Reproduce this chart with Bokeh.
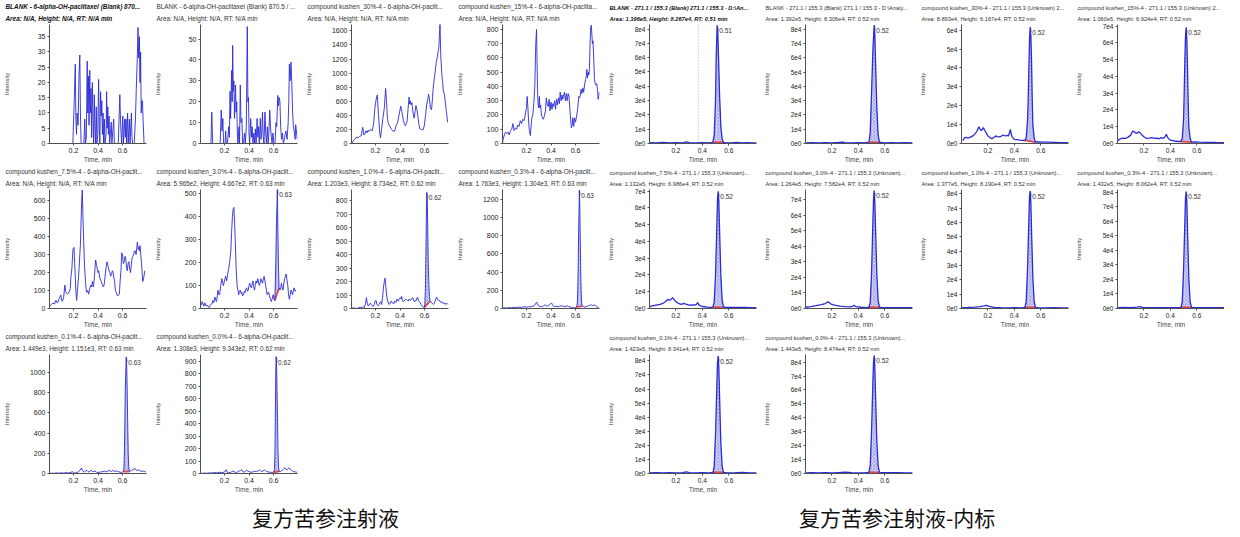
import numpy as np
from bokeh.plotting import figure
from bokeh.models import Range1d, FixedTicker, Title, Label, Span, Div, Spacer
from bokeh.layouts import row, column
from bokeh.embed import file_html
from bokeh.resources import INLINE

# ---------------- data (time [min], intensity [cps]) ----------------
L1 = [(0.005,0),(0.195,0),(0.205,12),(0.215,26),(0.22,8),(0.225,3),(0.23,10),(0.238,6),(0.245,22),(0.252,29),(0.257,10),(0.262,0),(0.285,0),(0.292,8),(0.298,0),(0.305,2),(0.312,27),(0.317,10),(0.322,22),(0.327,6),(0.333,24),(0.338,10),(0.343,18),(0.348,2),(0.354,20),(0.359,9),(0.364,0),(0.37,16),(0.375,5),(0.38,0),(0.386,12),(0.391,0),(0.398,3),(0.405,21),(0.41,6),(0.415,0),(0.421,17),(0.426,9),(0.431,14),(0.436,3),(0.441,10),(0.446,0),(0.452,8),(0.457,0),(0.466,3),(0.47,17),(0.475,5),(0.48,12),(0.485,3),(0.49,9),(0.495,0),(0.508,7),(0.513,0),(0.528,8),(0.533,0),(0.565,0),(0.578,16),(0.583,8),(0.588,3),(0.593,0),(0.602,9),(0.607,0),(0.618,8),(0.623,2),(0.628,8),(0.633,0),(0.641,10),(0.646,0),(0.656,8),(0.661,0),(0.672,10),(0.677,2),(0.682,0),(0.695,0),(0.705,8),(0.712,18),(0.72,28),(0.726,38),(0.731,28),(0.737,35),(0.742,20),(0.747,30),(0.752,10),(0.757,14),(0.762,14),(0.767,8),(0.775,0),(0.79,0)]
L2 = [(0.005,0),(0.09,0),(0.097,15),(0.104,0),(0.165,0),(0.174,16),(0.18,6),(0.187,12),(0.193,0),(0.205,0),(0.21,6),(0.215,0),(0.225,0),(0.234,8),(0.24,3),(0.246,25),(0.25,12),(0.259,35),(0.263,20),(0.267,47),(0.272,25),(0.277,30),(0.282,12),(0.29,28),(0.295,15),(0.30,20),(0.305,5),(0.31,0),(0.318,8),(0.323,0),(0.329,28),(0.335,10),(0.342,12),(0.348,0),(0.355,0),(0.363,5),(0.37,0),(0.378,8),(0.386,56),(0.391,20),(0.396,22),(0.40,5),(0.405,0),(0.414,12),(0.42,3),(0.426,8),(0.432,0),(0.44,5),(0.446,0),(0.452,7),(0.458,0),(0.466,12),(0.472,3),(0.478,8),(0.484,0),(0.492,12),(0.498,2),(0.504,6),(0.51,15),(0.516,3),(0.522,0),(0.53,15),(0.536,5),(0.542,0),(0.55,8),(0.556,0),(0.562,5),(0.569,16),(0.575,8),(0.582,3),(0.588,0),(0.595,5),(0.602,0),(0.612,0),(0.62,10),(0.626,8),(0.634,23),(0.64,18),(0.646,22),(0.652,20),(0.658,8),(0.665,2),(0.672,5),(0.68,0),(0.69,3),(0.70,6),(0.71,2),(0.719,10),(0.724,20),(0.729,38),(0.735,30),(0.742,39),(0.748,30),(0.755,15),(0.762,8),(0.77,5),(0.776,2),(0.78,9),(0.786,6),(0.793,2)]
L3 = [(0.006,0),(0.02,40),(0.032,60),(0.045,90),(0.058,80),(0.07,100),(0.084,110),(0.097,230),(0.105,120),(0.115,140),(0.123,180),(0.13,150),(0.14,190),(0.148,170),(0.16,200),(0.174,180),(0.185,280),(0.195,500),(0.205,620),(0.215,690),(0.225,400),(0.235,150),(0.241,80),(0.25,200),(0.26,350),(0.272,500),(0.283,780),(0.29,600),(0.298,350),(0.306,280),(0.316,250),(0.33,200),(0.342,180),(0.355,170),(0.368,250),(0.381,300),(0.394,420),(0.406,530),(0.415,450),(0.427,330),(0.437,270),(0.445,250),(0.458,320),(0.466,500),(0.474,660),(0.48,560),(0.484,600),(0.49,550),(0.497,580),(0.505,450),(0.515,360),(0.522,450),(0.53,540),(0.538,480),(0.546,380),(0.553,280),(0.561,210),(0.575,200),(0.587,190),(0.598,250),(0.608,400),(0.618,560),(0.626,620),(0.632,700),(0.639,650),(0.648,500),(0.657,480),(0.665,650),(0.67,780),(0.678,900),(0.685,1000),(0.695,1150),(0.703,1220),(0.71,1300),(0.716,1350),(0.72,1500),(0.726,1700),(0.732,1250),(0.737,1100),(0.742,950),(0.747,880),(0.752,760),(0.757,720),(0.762,700),(0.768,600),(0.778,450),(0.788,300)]
L4 = [(0.005,0),(0.01,30),(0.02,60),(0.03,80),(0.04,70),(0.05,80),(0.06,60),(0.07,90),(0.08,100),(0.09,140),(0.10,90),(0.11,110),(0.12,100),(0.13,130),(0.14,120),(0.15,160),(0.16,140),(0.17,170),(0.18,160),(0.19,200),(0.2,250),(0.206,330),(0.212,250),(0.218,150),(0.224,90),(0.232,55),(0.238,120),(0.244,180),(0.252,200),(0.26,280),(0.268,400),(0.276,700),(0.282,800),(0.286,600),(0.29,380),(0.295,270),(0.30,250),(0.305,330),(0.31,250),(0.316,270),(0.322,200),(0.33,180),(0.338,170),(0.345,190),(0.355,230),(0.362,320),(0.37,270),(0.378,260),(0.385,310),(0.392,230),(0.40,290),(0.408,240),(0.415,280),(0.422,260),(0.43,300),(0.437,240),(0.445,310),(0.452,270),(0.46,320),(0.468,280),(0.475,360),(0.482,300),(0.49,340),(0.496,310),(0.503,340),(0.51,360),(0.517,300),(0.525,350),(0.532,300),(0.54,350),(0.547,330),(0.553,250),(0.56,170),(0.566,110),(0.572,130),(0.578,180),(0.585,120),(0.592,180),(0.6,150),(0.61,200),(0.618,250),(0.626,330),(0.632,320),(0.639,340),(0.645,380),(0.652,350),(0.66,390),(0.666,360),(0.675,420),(0.682,450),(0.687,470),(0.692,520),(0.697,460),(0.703,500),(0.708,480),(0.713,520),(0.718,700),(0.724,820),(0.728,830),(0.732,780),(0.737,700),(0.742,720),(0.748,600),(0.754,450),(0.76,420),(0.766,410),(0.772,420),(0.779,380),(0.784,310),(0.79,340),(0.795,360)]
L5 = [(0.005,10),(0.015,20),(0.032,30),(0.045,25),(0.058,45),(0.07,30),(0.084,55),(0.097,75),(0.104,45),(0.11,40),(0.12,60),(0.13,130),(0.137,95),(0.143,85),(0.152,80),(0.161,85),(0.174,110),(0.18,180),(0.187,220),(0.196,330),(0.205,340),(0.21,250),(0.215,180),(0.22,90),(0.226,45),(0.235,120),(0.246,220),(0.252,300),(0.257,360),(0.262,480),(0.267,600),(0.272,660),(0.277,520),(0.283,380),(0.29,240),(0.298,150),(0.303,110),(0.308,90),(0.316,100),(0.324,80),(0.332,110),(0.342,130),(0.348,120),(0.355,150),(0.363,120),(0.37,170),(0.376,230),(0.381,270),(0.388,240),(0.394,220),(0.40,200),(0.406,210),(0.415,170),(0.427,150),(0.436,130),(0.445,120),(0.452,140),(0.458,180),(0.466,230),(0.474,260),(0.48,240),(0.484,230),(0.49,210),(0.497,200),(0.503,180),(0.51,190),(0.517,210),(0.523,200),(0.53,170),(0.535,150),(0.542,100),(0.548,90),(0.555,75),(0.561,70),(0.568,75),(0.574,80),(0.58,150),(0.587,210),(0.593,310),(0.6,300),(0.606,250),(0.613,260),(0.62,290),(0.626,280),(0.632,230),(0.639,210),(0.645,250),(0.652,260),(0.658,220),(0.665,200),(0.671,240),(0.677,280),(0.684,290),(0.69,300),(0.697,320),(0.703,320),(0.71,300),(0.716,340),(0.721,370),(0.727,330),(0.732,340),(0.737,320),(0.742,350),(0.748,300),(0.755,250),(0.76,190),(0.765,150),(0.772,170),(0.781,210)]
L6 = [(0.005,20),(0.01,15),(0.019,30),(0.025,20),(0.032,10),(0.04,25),(0.048,12),(0.058,15),(0.066,8),(0.076,5),(0.085,15),(0.097,20),(0.105,35),(0.113,25),(0.123,50),(0.13,35),(0.135,30),(0.142,55),(0.148,80),(0.155,60),(0.161,60),(0.17,100),(0.179,130),(0.186,110),(0.192,100),(0.2,120),(0.21,140),(0.218,120),(0.226,150),(0.234,170),(0.242,200),(0.252,250),(0.258,330),(0.265,400),(0.27,430),(0.277,440),(0.282,380),(0.288,300),(0.295,180),(0.303,100),(0.31,80),(0.316,60),(0.322,75),(0.329,80),(0.336,65),(0.342,70),(0.348,55),(0.355,60),(0.362,75),(0.368,70),(0.375,85),(0.381,90),(0.388,75),(0.394,80),(0.4,100),(0.406,110),(0.413,95),(0.419,90),(0.425,105),(0.432,120),(0.438,95),(0.445,80),(0.452,105),(0.458,120),(0.465,110),(0.471,130),(0.478,115),(0.484,100),(0.49,110),(0.497,130),(0.503,120),(0.51,110),(0.516,125),(0.523,140),(0.53,120),(0.535,100),(0.542,80),(0.548,60),(0.555,70),(0.561,70),(0.569,50),(0.575,40),(0.582,30),(0.59,45),(0.597,60),(0.604,40),(0.61,35),(0.615,120),(0.62,250),(0.624,380),(0.628,450),(0.631,520),(0.635,360),(0.64,180),(0.645,90),(0.652,80),(0.658,90),(0.665,110),(0.671,90),(0.677,80),(0.684,110),(0.69,130),(0.697,140),(0.703,150),(0.71,120),(0.716,100),(0.722,60),(0.729,40),(0.735,60),(0.742,80),(0.748,70),(0.755,60),(0.762,80),(0.768,90),(0.775,75),(0.781,80)]
L7 = [(0.005,0),(0.02,5),(0.04,0),(0.06,3),(0.075,10),(0.09,5),(0.1,15),(0.11,8),(0.12,40),(0.127,80),(0.133,40),(0.14,20),(0.148,25),(0.158,40),(0.165,30),(0.174,20),(0.182,15),(0.19,30),(0.198,55),(0.205,60),(0.212,30),(0.221,20),(0.23,30),(0.238,45),(0.244,50),(0.25,30),(0.258,80),(0.265,150),(0.272,200),(0.278,225),(0.284,170),(0.291,100),(0.298,60),(0.305,40),(0.312,30),(0.32,40),(0.328,55),(0.335,45),(0.342,40),(0.35,35),(0.355,55),(0.361,50),(0.368,45),(0.375,70),(0.381,60),(0.387,55),(0.395,75),(0.402,80),(0.408,70),(0.413,90),(0.42,60),(0.426,50),(0.434,55),(0.44,65),(0.447,70),(0.452,65),(0.46,60),(0.468,55),(0.473,70),(0.478,65),(0.485,60),(0.491,70),(0.497,75),(0.504,80),(0.51,60),(0.517,50),(0.523,60),(0.53,55),(0.536,70),(0.543,85),(0.55,60),(0.557,50),(0.564,45),(0.571,30),(0.577,20),(0.582,15),(0.59,10),(0.598,8),(0.602,30),(0.607,150),(0.611,400),(0.615,700),(0.618,860),(0.622,820),(0.626,600),(0.63,350),(0.635,180),(0.64,90),(0.645,55),(0.652,50),(0.66,40),(0.667,35),(0.673,30),(0.68,40),(0.688,60),(0.695,80),(0.699,85),(0.705,70),(0.712,60),(0.719,60),(0.726,55),(0.732,45),(0.738,50),(0.745,40),(0.752,45),(0.758,35),(0.764,40),(0.772,30),(0.78,40),(0.79,30)]
L8 = [(0.005,5),(0.02,8),(0.04,5),(0.06,10),(0.08,8),(0.1,12),(0.12,10),(0.14,15),(0.16,12),(0.18,20),(0.2,15),(0.215,20),(0.23,18),(0.25,25),(0.265,30),(0.275,55),(0.282,70),(0.29,50),(0.3,30),(0.31,20),(0.32,25),(0.33,20),(0.34,30),(0.35,40),(0.36,30),(0.37,25),(0.385,40),(0.398,55),(0.405,60),(0.412,40),(0.42,25),(0.43,20),(0.44,25),(0.455,20),(0.47,25),(0.485,30),(0.5,25),(0.515,20),(0.53,30),(0.545,20),(0.56,15),(0.575,10),(0.59,8),(0.6,10),(0.605,15),(0.61,25),(0.614,60),(0.618,200),(0.622,500),(0.625,880),(0.628,1050),(0.631,1304),(0.634,1180),(0.637,900),(0.641,500),(0.645,200),(0.65,60),(0.655,25),(0.665,20),(0.675,15),(0.685,20),(0.695,25),(0.705,30),(0.715,35),(0.722,40),(0.73,38),(0.74,30),(0.75,40),(0.76,35),(0.77,20),(0.78,15),(0.79,10)]
L9 = [(0.005,0),(0.02,3),(0.04,2),(0.06,5),(0.08,3),(0.1,6),(0.12,4),(0.14,8),(0.16,5),(0.18,10),(0.19,20),(0.2,8),(0.215,5),(0.23,10),(0.245,20),(0.255,35),(0.265,55),(0.272,35),(0.28,20),(0.29,15),(0.3,25),(0.31,30),(0.318,20),(0.325,15),(0.335,25),(0.345,30),(0.355,20),(0.365,20),(0.375,25),(0.385,15),(0.395,10),(0.41,12),(0.425,15),(0.44,20),(0.455,25),(0.465,15),(0.475,20),(0.49,30),(0.5,25),(0.51,20),(0.52,30),(0.535,20),(0.55,25),(0.56,20),(0.575,15),(0.59,10),(0.6,15),(0.605,18),(0.61,25),(0.614,150),(0.618,450),(0.622,800),(0.626,1000),(0.63,1151),(0.634,1050),(0.638,800),(0.642,500),(0.646,200),(0.65,80),(0.655,20),(0.665,25),(0.675,30),(0.685,40),(0.695,45),(0.702,50),(0.71,35),(0.72,30),(0.73,35),(0.74,30),(0.75,20),(0.765,25),(0.78,20),(0.79,15)]
L10 = [(0.005,0),(0.02,2),(0.04,3),(0.06,2),(0.08,5),(0.1,4),(0.12,8),(0.14,5),(0.16,10),(0.18,6),(0.2,12),(0.213,30),(0.222,10),(0.235,5),(0.25,8),(0.26,15),(0.272,20),(0.28,12),(0.29,10),(0.3,8),(0.31,15),(0.32,20),(0.33,25),(0.34,30),(0.35,15),(0.36,10),(0.37,18),(0.38,25),(0.39,20),(0.4,15),(0.415,10),(0.43,12),(0.445,18),(0.46,15),(0.475,20),(0.485,30),(0.495,22),(0.505,15),(0.515,20),(0.525,30),(0.535,22),(0.545,15),(0.56,12),(0.575,10),(0.59,8),(0.6,10),(0.607,30),(0.611,150),(0.615,500),(0.618,800),(0.621,934),(0.624,880),(0.628,700),(0.632,450),(0.636,200),(0.64,60),(0.645,18),(0.655,15),(0.665,20),(0.675,30),(0.685,40),(0.692,45),(0.7,35),(0.71,30),(0.72,40),(0.728,45),(0.735,35),(0.745,25),(0.755,20),(0.765,15),(0.78,12),(0.79,10)]

R1 = [(0.0,600),(0.05,500),(0.1,700),(0.15,500),(0.2,600),(0.25,500),(0.28,1200),(0.3,600),(0.35,500),(0.4,600),(0.45,500),(0.47,700),(0.48,900),(0.49,6000),(0.50,30000),(0.505,60000),(0.512,82670),(0.517,78000),(0.522,62000),(0.53,35000),(0.54,12000),(0.55,3000),(0.56,700),(0.58,600),(0.62,500),(0.66,700),(0.7,500),(0.74,600),(0.78,500),(0.81,500)]
R2 = [(0.0,500),(0.05,600),(0.1,500),(0.15,600),(0.2,500),(0.25,700),(0.28,900),(0.3,600),(0.35,500),(0.4,600),(0.45,500),(0.47,800),(0.48,900),(0.49,8000),(0.50,35000),(0.51,65000),(0.52,83060),(0.525,76000),(0.53,58000),(0.54,25000),(0.55,6000),(0.56,700),(0.57,700),(0.6,500),(0.65,600),(0.7,500),(0.75,600),(0.81,500)]
R3 = [(0.01,1500),(0.02,2800),(0.034,3200),(0.05,2800),(0.07,3500),(0.09,4200),(0.107,5500),(0.12,7000),(0.132,8800),(0.14,7800),(0.148,7000),(0.156,7200),(0.165,8500),(0.172,7500),(0.18,6500),(0.19,5200),(0.2,4000),(0.215,3200),(0.23,2600),(0.245,3200),(0.258,4000),(0.27,3600),(0.285,3500),(0.3,3800),(0.315,4500),(0.325,4200),(0.335,4000),(0.345,4300),(0.355,4000),(0.362,5500),(0.37,7500),(0.376,5000),(0.383,3500),(0.4,2200),(0.42,2000),(0.44,1800),(0.46,1700),(0.48,1600),(0.49,3000),(0.50,12000),(0.505,24000),(0.51,40000),(0.515,55000),(0.52,61670),(0.525,57000),(0.53,45000),(0.535,25000),(0.54,10000),(0.55,3000),(0.56,700),(0.57,900),(0.6,800),(0.65,700),(0.7,600),(0.75,500),(0.81,500)]
R4 = [(0.0,1500),(0.02,2800),(0.04,3200),(0.06,3000),(0.08,3800),(0.1,5000),(0.115,7500),(0.125,7000),(0.135,6500),(0.145,6000),(0.16,7000),(0.17,6500),(0.185,5000),(0.2,4000),(0.22,3000),(0.24,3200),(0.26,3500),(0.28,3000),(0.3,3200),(0.315,2800),(0.33,3500),(0.345,3000),(0.36,4000),(0.37,5500),(0.38,3500),(0.4,2000),(0.43,1500),(0.46,1200),(0.48,1200),(0.49,3000),(0.50,14000),(0.505,30000),(0.51,50000),(0.515,64000),(0.52,69240),(0.525,62000),(0.53,45000),(0.535,25000),(0.54,10000),(0.55,3000),(0.56,800),(0.58,900),(0.62,800),(0.68,700),(0.74,600),(0.81,500)]
R5 = [(0.0,1000),(0.02,1500),(0.05,2000),(0.08,2500),(0.1,3000),(0.12,4000),(0.14,5500),(0.15,5000),(0.16,5200),(0.175,6500),(0.185,5500),(0.2,4000),(0.22,3000),(0.24,2500),(0.26,3000),(0.28,2500),(0.3,2000),(0.32,2200),(0.34,2000),(0.355,2500),(0.365,3500),(0.375,2000),(0.4,1200),(0.44,800),(0.47,700),(0.48,900),(0.49,4000),(0.50,20000),(0.51,50000),(0.515,65000),(0.52,69860),(0.525,64000),(0.53,48000),(0.54,20000),(0.55,5000),(0.56,900),(0.58,700),(0.62,600),(0.68,700),(0.74,600),(0.81,500)]
R6 = [(0.0,800),(0.04,1200),(0.08,1800),(0.12,2500),(0.15,3200),(0.17,4300),(0.19,3000),(0.22,2200),(0.26,1500),(0.3,1200),(0.34,1000),(0.36,1500),(0.37,2000),(0.38,1200),(0.42,800),(0.46,600),(0.48,800),(0.49,4000),(0.50,22000),(0.51,55000),(0.515,70000),(0.52,75820),(0.525,68000),(0.53,52000),(0.54,22000),(0.55,5000),(0.56,800),(0.58,600),(0.64,500),(0.7,600),(0.76,500),(0.81,500)]
R7 = [(0.0,600),(0.05,700),(0.1,900),(0.14,1300),(0.17,1800),(0.19,2200),(0.21,1500),(0.25,800),(0.3,600),(0.35,500),(0.4,600),(0.45,500),(0.48,700),(0.49,5000),(0.50,28000),(0.51,62000),(0.515,78000),(0.52,81900),(0.525,74000),(0.53,55000),(0.54,22000),(0.55,5000),(0.56,700),(0.58,600),(0.64,500),(0.7,600),(0.76,500),(0.81,500)]
R8 = [(0.0,600),(0.05,700),(0.1,600),(0.15,900),(0.17,1300),(0.19,800),(0.23,600),(0.3,500),(0.35,600),(0.4,500),(0.45,600),(0.48,700),(0.49,4500),(0.50,26000),(0.51,60000),(0.515,76000),(0.52,80620),(0.525,73000),(0.53,54000),(0.54,21000),(0.55,4500),(0.56,700),(0.58,600),(0.64,500),(0.7,600),(0.76,500),(0.81,500)]
R9 = [(0.0,500),(0.05,600),(0.1,500),(0.15,600),(0.2,500),(0.25,600),(0.28,1100),(0.3,600),(0.35,500),(0.4,600),(0.45,500),(0.48,700),(0.49,5000),(0.50,28000),(0.51,63000),(0.515,79000),(0.52,83410),(0.525,75000),(0.53,56000),(0.54,22000),(0.55,5000),(0.56,700),(0.58,600),(0.64,500),(0.7,700),(0.76,500),(0.81,500)]
R10 = [(0.0,500),(0.05,600),(0.1,500),(0.15,600),(0.2,500),(0.25,700),(0.3,900),(0.35,600),(0.4,500),(0.45,600),(0.48,800),(0.49,6000),(0.50,30000),(0.51,65000),(0.515,80000),(0.52,84740),(0.525,76000),(0.53,57000),(0.54,23000),(0.55,5500),(0.56,800),(0.58,600),(0.64,700),(0.7,600),(0.76,500),(0.81,500)]

# integration windows: (t_start, baseline_start, t_end, baseline_end, RT label)
PK_L6 = (0.61, 35, 0.645, 90, "0.63")
PK_L7 = (0.598, 8, 0.645, 55, "0.62")
PK_L8 = (0.605, 15, 0.655, 25, "0.63")
PK_L9 = (0.605, 18, 0.655, 20, "0.63")
PK_L10 = (0.6, 10, 0.645, 18, "0.62")
PK_R1 = (0.48, 900, 0.56, 700, "0.51")
PK_R = (0.48, 900, 0.56, 700, "0.52")
PK_R3 = (0.48, 1600, 0.56, 700, "0.52")
PK_R4 = (0.48, 1200, 0.56, 800, "0.52")

# y axis ticks
YT_L1 = [0, 5, 10, 15, 20, 25, 30, 35]
YT_L2 = [0, 10, 20, 30, 40, 50]
YT_L3 = [0, 200, 400, 600, 800, 1000, 1200, 1400, 1600]
YT_L4 = [0, 100, 200, 300, 400, 500, 600, 700, 800]
YT_L5 = [0, 100, 200, 300, 400, 500, 600]
YT_L6 = [0, 100, 200, 300, 400, 500]
YT_L7 = [0, 100, 200, 300, 400, 500, 600, 700, 800]
YT_L8 = [0, 200, 400, 600, 800, 1000, 1200]
YT_L9 = [0, 200, 400, 600, 800, 1000]
YT_L10 = [0, 100, 200, 300, 400, 500, 600, 700, 800, 900]
YT_R6 = [0, 10000, 20000, 30000, 40000, 50000, 60000]
YT_R7 = [0, 10000, 20000, 30000, 40000, 50000, 60000, 70000]
YT_R8 = [0, 10000, 20000, 30000, 40000, 50000, 60000, 70000, 80000]
YT_R_LABELS = ["0e0", "1e4", "2e4", "3e4", "4e4", "5e4", "6e4", "7e4", "8e4"]
XTICKS = [0.2, 0.4, 0.6]

# axis upper limits
YMAX_L = [39, 57, 1690, 835, 662, 518, 882, 1310, 1176, 952]
YMAX_R = [83200, 83500, 63000, 71000, 71000, 76500, 83000, 82000, 84500, 85500]

TITLES_L = [
    ("BLANK - 6-alpha-OH-paclitaxel (Blank) 870...", "Area: N/A, Height: N/A, RT: N/A min"),
    ("BLANK - 6-alpha-OH-paclitaxel (Blank) 870.5 / ...", "Area: N/A, Height: N/A, RT: N/A min"),
    ("compound kushen_30%-4 - 6-alpha-OH-paclit...", "Area: N/A, Height: N/A, RT: N/A min"),
    ("compound kushen_15%-4 - 6-alpha-OH-paclita...", "Area: N/A, Height: N/A, RT: N/A min"),
    ("compound kushen_7.5%-4 - 6-alpha-OH-paclit...", "Area: N/A, Height: N/A, RT: N/A min"),
    ("compound kushen_3.0%-4 - 6-alpha-OH-paclit...", "Area: 5.965e2, Height: 4.667e2, RT: 0.63 min"),
    ("compound kushen_1.0%-4 - 6-alpha-OH-paclit...", "Area: 1.203e3, Height: 8.734e2, RT: 0.62 min"),
    ("compound kushen_0.3%-4 - 6-alpha-OH-paclit...", "Area: 1.763e3, Height: 1.304e3, RT: 0.63 min"),
    ("compound kushen_0.1%-4 - 6-alpha-OH-paclit...", "Area: 1.449e3, Height: 1.151e3, RT: 0.63 min"),
    ("compound kushen_0.0%-4 - 6-alpha-OH-paclit...", "Area: 1.308e3, Height: 9.343e2, RT: 0.62 min"),
]
TITLES_R = [
    ("BLANK - 271.1 / 155.3 (Blank) 271.1 / 155.3 - D:\\An...", "Area: 1.396e5, Height: 8.267e4, RT: 0.51 min"),
    ("BLANK - 271.1 / 155.3 (Blank) 271.1 / 155.3 - D:\\Analy...", "Area: 1.392e5, Height: 8.306e4, RT: 0.52 min"),
    ("compound kushen_30%-4 - 271.1 / 155.3 (Unknown) 2...", "Area: 8.893e4, Height: 6.167e4, RT: 0.52 min"),
    ("compound kushen_15%-4 - 271.1 / 155.3 (Unknown) 2...", "Area: 1.060e5, Height: 6.924e4, RT: 0.52 min"),
    ("compound kushen_7.5%-4 - 271.1 / 155.3 (Unknown)...", "Area: 1.132e5, Height: 6.986e4, RT: 0.52 min"),
    ("compound kushen_3.0%-4 - 271.1 / 155.3 (Unknown)...", "Area: 1.264e5, Height: 7.582e4, RT: 0.52 min"),
    ("compound kushen_1.0%-4 - 271.1 / 155.3 (Unknown)...", "Area: 1.377e5, Height: 8.190e4, RT: 0.52 min"),
    ("compound kushen_0.3%-4 - 271.1 / 155.3 (Unknown)...", "Area: 1.432e5, Height: 8.062e4, RT: 0.52 min"),
    ("compound kushen_0.1%-4 - 271.1 / 155.3 (Unknown)...", "Area: 1.423e5, Height: 8.341e4, RT: 0.52 min"),
    ("compound kushen_0.0%-4 - 271.1 / 155.3 (Unknown)...", "Area: 1.443e5, Height: 8.474e4, RT: 0.52 min"),
]
X_LABEL = "Time, min"
Y_LABEL = "Intensity"
CAPTION_L = "复方苦参注射液"
CAPTION_R = "复方苦参注射液-内标"
BLANK_MARK_R1 = 0.37  # dotted marker in first IS panel

FONT = "Liberation Sans"
TRACE = "#2a2ad6"
AX = "#505050"
ROW_H = 165


def panel(data, ymax, yticks, titles, side, bold=False, peak=None, ylabels=None, span=None, last=False):
    t = np.array([d[0] for d in data], dtype=float)
    y = np.array([d[1] for d in data], dtype=float)
    if side == "L":
        MBL, FW, MBR, xr, tfs, kfs, cw, D = 44, 102, 5, (0.005, 0.795), "6.4px", "7px", 3.9, 40
    else:
        MBL, FW, MBR, xr, tfs, kfs, cw, D = 40, 112, 4, (0.0, 0.81), "5.7px", "6.5px", 3.6, 36
    if last:
        MBR = 0
    p = figure(width=MBL + FW + MBR, height=ROW_H, title=None, x_range=Range1d(*xr),
               y_range=Range1d(0, ymax), output_backend="svg", toolbar_location=None,
               min_border_left=MBL, min_border_right=MBR, min_border_top=22, min_border_bottom=18)
    p.outline_line_color = None
    p.xgrid.visible = False
    p.ygrid.visible = False
    p.background_fill_color = "white"
    p.border_fill_color = "white"

    style = "bold italic" if bold else "normal"
    tcol = "#111111" if bold else "#333333"
    t2 = Title(text=titles[1], align="left", offset=-(MBL), standoff=5, text_font_size=tfs,
               text_font=FONT, text_font_style=style, text_color=tcol, text_line_height=1.0)
    t1 = Title(text=titles[0], align="left", offset=-(MBL), standoff=1, text_font_size=tfs,
               text_font=FONT, text_font_style=style, text_color=tcol, text_line_height=1.0)
    p.add_layout(t2, "above")
    p.add_layout(t1, "above")

    if span is not None:
        p.add_layout(Span(location=span, dimension="height", line_color="#9a9a9a",
                          line_dash="1 2", line_width=0.8))

    if peak is not None:
        t0, b0, t1_, b1, rt_text = peak
        m = (t > t0) & (t < t1_)
        px = [t0] + list(t[m]) + [t1_]
        py = [b0] + list(y[m]) + [b1]
        p.patch(px, py, fill_color="#dcdcf6", fill_alpha=1.0, line_color=None,
                hatch_pattern="diagonal_cross", hatch_color="#3c3cd0", hatch_scale=3.5,
                hatch_weight=0.5, hatch_alpha=0.85)
        p.line([t0, t1_], [b0, b1], line_color="#e24848", line_width=1.8)
        ia = int(np.argmax(np.where(m, y, -1)))
        ax_, ay_ = t[ia], y[ia]
        p.segment(x0=[ax_], y0=[ay_], x1=[ax_ + 0.014], y1=[ay_ - 0.045 * ymax],
                  line_color="#7a7a7a", line_width=0.6)
        p.add_layout(Label(x=ax_ + 0.016, y=ay_ - 0.045 * ymax, text=rt_text, text_font=FONT,
                           text_font_size="6.5px", text_color="#333333", text_baseline="middle",
                           text_align="left"))

    p.line(t, y, line_color=TRACE, line_width=0.9 if side == "L" else 1.3)

    # axes
    p.xaxis.ticker = FixedTicker(ticks=XTICKS)
    p.yaxis.ticker = FixedTicker(ticks=yticks)
    if ylabels is not None:
        p.yaxis.major_label_overrides = {v: s for v, s in zip(yticks, ylabels)}
        w = max(len(s) for s in ylabels[:len(yticks)]) * cw
    else:
        w = max(len(str(v)) for v in yticks) * cw
    for ax in (p.xaxis[0], p.yaxis[0]):
        ax.axis_line_color = AX
        ax.axis_line_width = 1
        ax.major_tick_line_color = AX
        ax.major_tick_in = 0
        ax.major_tick_out = 2
        ax.minor_tick_in = 0
        ax.minor_tick_out = 0
        ax.major_label_standoff = 2
        ax.major_label_text_font = FONT
        ax.major_label_text_font_size = kfs
        ax.major_label_text_color = "#222222"
        ax.major_label_text_line_height = 1.0
        ax.axis_label_text_font = FONT
        ax.axis_label_text_font_style = "normal"
        ax.axis_label_text_color = "#444444"
        ax.axis_label_text_line_height = 1.0
    p.xaxis.axis_label = X_LABEL
    p.xaxis.axis_label_text_font_size = "6.5px"
    p.xaxis.axis_label_standoff = 0
    p.xaxis.major_label_standoff = 2
    p.yaxis.axis_label = Y_LABEL
    p.yaxis.axis_label_text_font_size = "6px"
    p.yaxis.axis_label_standoff = max(1, int(round(D - 4 - w - 3)))
    return p


L_DATA = [L1, L2, L3, L4, L5, L6, L7, L8, L9, L10]
L_TICKS = [YT_L1, YT_L2, YT_L3, YT_L4, YT_L5, YT_L6, YT_L7, YT_L8, YT_L9, YT_L10]
L_PEAKS = [None, None, None, None, None, PK_L6, PK_L7, PK_L8, PK_L9, PK_L10]
R_DATA = [R1, R2, R3, R4, R5, R6, R7, R8, R9, R10]
R_TICKS = [YT_R8, YT_R8, YT_R6, YT_R7, YT_R7, YT_R7, YT_R8, YT_R8, YT_R8, YT_R8]
R_PEAKS = [PK_R1, PK_R, PK_R3, PK_R4, PK_R, PK_R, PK_R, PK_R, PK_R, PK_R]

LP = [panel(L_DATA[i], YMAX_L[i], L_TICKS[i], TITLES_L[i], "L", bold=(i == 0), peak=L_PEAKS[i])
      for i in range(10)]
RP = [panel(R_DATA[i], YMAX_R[i], R_TICKS[i], TITLES_R[i], "R", bold=(i == 0), peak=R_PEAKS[i],
            ylabels=YT_R_LABELS, span=(BLANK_MARK_R1 if i == 0 else None), last=(i in (3, 7)))
      for i in range(10)]

row1 = row(LP[0], LP[1], LP[2], LP[3], RP[0], RP[1], RP[2], RP[3])
row2 = row(LP[4], LP[5], LP[6], LP[7], RP[4], RP[5], RP[6], RP[7])
row3 = row(LP[8], LP[9], Spacer(width=302, height=ROW_H), RP[8], RP[9], Spacer(width=312, height=ROW_H))

cap_style = "display:inline-block;font-family:'Noto Sans CJK SC';font-size:21px;line-height:18px;color:#111;white-space:nowrap;"
cap_l = Div(text=f'<span style="{cap_style}margin-left:247px;margin-top:8px;">{CAPTION_L}</span>',
            width=604, height=26)
cap_r = Div(text=f'<span style="{cap_style}margin-left:180px;margin-top:8px;">{CAPTION_R}</span>',
            width=616, height=26)
row4 = row(cap_l, cap_r)

layout = column(row1, row2, row3, row4)

open("out.html", "w").write(file_html(layout, INLINE))
